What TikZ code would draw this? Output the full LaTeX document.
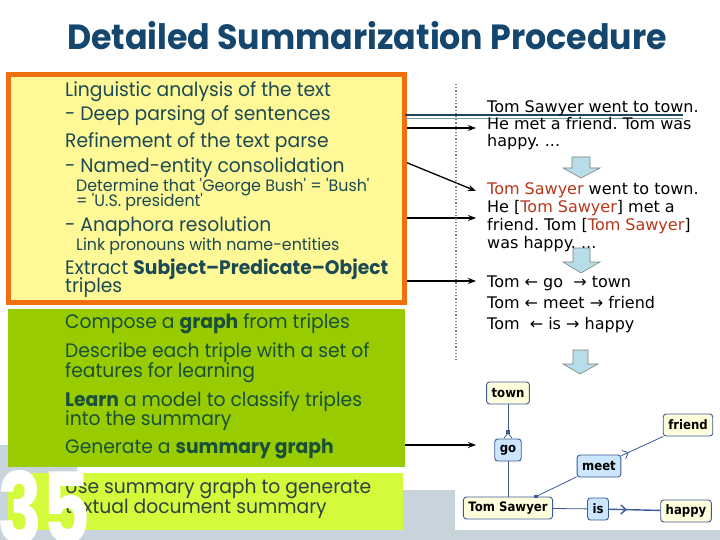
\documentclass[tikz,border=0pt]{standalone}
\usepackage{fontspec}
\usetikzlibrary{arrows.meta,calc,decorations.markings}
\setmainfont{Poppins}[FakeStretch=0.96]
\newfontfamily\titlefont[FakeStretch=0.95]{Poppins}
\newfontfamily\numberfont[FakeStretch=0.76]{Poppins}
\newfontfamily\tahoma{DejaVu Sans}
\newfontfamily\tahomabold[FakeStretch=0.9]{DejaVu Sans}
\definecolor{titleblue}{RGB}{20,70,110}
\definecolor{boxorange}{RGB}{240,112,16}
\definecolor{boxyellow}{RGB}{255,248,150}
\definecolor{boxgreen}{RGB}{153,204,0}
\definecolor{boxlime}{RGB}{212,250,60}
\definecolor{footgrey}{RGB}{200,212,220}
\definecolor{tealtext}{RGB}{28,74,84}
\definecolor{greentext}{RGB}{26,80,58}
\definecolor{limetext}{RGB}{44,66,66}
\definecolor{sawyerred}{RGB}{185,55,25}
\definecolor{downblue}{RGB}{183,221,232}
\definecolor{entityfill}{RGB}{255,255,221}
\definecolor{relfill}{RGB}{204,230,255}
\definecolor{nodeedge}{RGB}{60,90,150}
\tikzset{
  bigline/.style={anchor=base west,inner sep=0pt,font=\fontsize{19.5}{22}\selectfont},
  smallline/.style={anchor=base west,inner sep=0pt,font=\fontsize{16.5}{18}\selectfont},
  sampleline/.style={anchor=base west,inner sep=0pt,font=\tahoma\fontsize{16}{18}\selectfont\frenchspacing},
  steparrow/.style={line width=1.3pt,-{Stealth[length=8pt,width=6pt]}},
  downshape/.style={fill=downblue,draw=gray,line width=0.6pt},
  graphnode/.style={draw=nodeedge,line width=0.9pt,rounded corners=3pt,inner xsep=5pt,
    minimum height=22pt,font=\tahomabold\bfseries\fontsize{13}{13}\selectfont},
  entity/.style={graphnode,fill=entityfill},
  relation/.style={graphnode,fill=relfill},
  graphedge/.style={draw=nodeedge,line width=0.8pt},
  midbarb/.style={postaction={decorate},decoration={markings,
    mark=at position #1 with {\arrow{Straight Barb[length=5pt,width=9pt]}}}}
}
\begin{document}
\begin{tikzpicture}[x=1pt,y=1pt,yscale=-1,xscale=1]
\useasboundingbox (0,0) rectangle (720,540);
%Shape: Rectangle [page]
\fill[white] (0,0) rectangle (720,540);
%Shape: Footer band
\fill[footgrey] (0,445) -- (65,445) arc[start angle=-90,end angle=0,radius=12] -- (77,490) -- (720,490) -- (720,540) -- (0,540) -- cycle;
%Shape: Rectangle [graph picture]
\fill[white] (455,372) rectangle (720,530);

% Text Node
\node[anchor=base,inner sep=0pt,text=titleblue,font=\titlefont\bfseries\fontsize{35}{40}\selectfont] (title) at (367,50) {Detailed Summarization Procedure};

%Straight Lines [arrows out of the boxes]
\coordinate (parseout) at (393,128);
\coordinate (parsein) at (476,128);
\coordinate (entityout) at (393,157);
\coordinate (entityin) at (476,191);
\coordinate (anaphout) at (393,218);
\coordinate (anaphin) at (476,218);
\coordinate (tripleout) at (395,281);
\coordinate (triplein) at (476,281);
\coordinate (graphout) at (405,445);
\coordinate (graphin) at (476,445);
\draw[steparrow] (parseout) -- (parsein);
\draw[steparrow] (entityout) -- (entityin);
\draw[steparrow] (anaphout) -- (anaphin);
\draw[steparrow] (tripleout) -- (triplein);

%Shape: Rectangle [analysis box]
\draw[draw=boxorange,fill=boxyellow,line width=5pt] (8,75) rectangle (404,302);
%Shape: Rectangle [learning box]
\fill[boxgreen] (8,309) rectangle (405,467);
%Shape: Rectangle [output box]
\fill[boxlime] (8,473) rectangle (403,530);
\draw[steparrow] (graphout) -- (graphin);

% Text Node
\node[bigline,text=tealtext] (ling) at (65,97) {Linguistic analysis of the text};
\node[bigline,text=tealtext] (deep) at (65,121) {- Deep parsing of sentences};
\node[bigline,text=tealtext] (refine) at (65,148) {Refinement of the text parse};
\node[bigline,text=tealtext] (named) at (65,173) {- Named-entity consolidation};
\node[smallline,text=tealtext] (bush) at (76,192) {Determine that \textquotesingle George Bush\textquotesingle\ = \textquotesingle Bush\textquotesingle};
\node[smallline,text=tealtext] (president) at (76,207) {= \textquotesingle U.S. president\textquotesingle};
\node[bigline,text=tealtext] (anaph) at (65,231) {- Anaphora resolution};
\node[smallline,text=tealtext] (pronoun) at (76,250) {Link pronouns with name-entities};
\node[bigline,text=tealtext] (extract) at (65,274) {Extract \textbf{Subject–Predicate–Object}};
\node[bigline,text=tealtext] (triples) at (65,292) {triples};
% Text Node
\node[bigline,text=greentext] (compose) at (65,328) {Compose a \textbf{graph} from triples};
\node[bigline,text=greentext] (describe) at (65,357) {Describe each triple with a set of};
\node[bigline,text=greentext] (features) at (65,377) {features for learning};
\node[bigline,text=greentext] (learn) at (65,406) {\textbf{Learn} a model to classify triples};
\node[bigline,text=greentext] (into) at (65,425) {into the summary};
\node[bigline,text=greentext] (generate) at (65,453) {Generate a \textbf{summary graph}};
% Text Node
\node[bigline,text=limetext] (use) at (65,493) {Use summary graph to generate};
\node[bigline,text=limetext] (textual) at (65,513) {textual document summary};
% Text Node [slide number]
\node[anchor=base west,inner sep=0pt,text=white,font=\numberfont\bfseries\fontsize{98}{98}\selectfont] (slideno) at (-3,543) {35};

%Straight Lines [dotted divider]
\draw[gray,dotted,line width=1.2pt] (456,84) -- (456,362);
%Straight Lines [double rule]
\draw[draw={rgb,255:red,30;green,70;blue,90},line width=1.5pt] (405,115) -- (683,115);
\draw[draw={rgb,255:red,120;green,150;blue,170},line width=0.8pt] (405,118.5) -- (683,118.5);

% Text Node
\node[sampleline] (plain1) at (487,113) {Tom Sawyer went to town.};
\node[sampleline] (plain2) at (487,130) {He met a friend. Tom was};
\node[sampleline] (plain3) at (487,147) {happy. ...};
\node[sampleline] (resolved1) at (487,195) {\textcolor{sawyerred}{Tom Sawyer} went to town.};
\node[sampleline] (resolved2) at (487,213) {He [\textcolor{sawyerred}{Tom Sawyer}] met a};
\node[sampleline] (resolved3) at (487,230) {friend. Tom [\textcolor{sawyerred}{Tom Sawyer}]};
\node[sampleline] (resolved4) at (487,248) {was happy. ...};
\node[sampleline] (triple1) at (487,287) {Tom ← go\ \ → town};
\node[sampleline] (triple2) at (487,308) {Tom ← meet → friend};
\node[sampleline] (triple3) at (487,329) {Tom\ \ ← is → happy};

%Shape: Down Arrow
\draw[downshape] (572,157) -- (590,157) -- (590,168) -- (600,168) -- (581,178) -- (563,168) -- (572,168) -- cycle;
%Shape: Down Arrow
\draw[downshape] (573,248) -- (590,248) -- (590,262) -- (600,262) -- (581,273) -- (563,262) -- (573,262) -- cycle;
%Shape: Down Arrow
\draw[downshape] (573,350) -- (588,350) -- (588,364) -- (598,364) -- (580,374) -- (563,364) -- (573,364) -- cycle;

% Graph Nodes
\node[entity] (town) at (508,393) {town};
\node[relation] (go) at (508,450) {go};
\node[relation] (meet) at (599,466) {meet};
\node[entity] (friend) at (688,425) {friend};
\node[entity] (tomsawyer) at (508,508) {Tom Sawyer};
\node[relation] (is) at (598,509) {is};
\node[entity] (happy) at (686,511) {happy};

% Graph Edges
\draw[graphedge,-{Straight Barb[reversed,length=5pt,width=8pt]}] (town) -- (go);
\fill[nodeedge] ($(go.north)+(-1.8,-8.5)$) rectangle ++(3.6,3.6);
\draw[graphedge] (go) -- (tomsawyer);
\coordinate (tommeet) at ($(tomsawyer.north)+(28,0)$);
\fill[nodeedge] ($(tommeet)+(-1.8,-1.8)$) rectangle ++(3.6,3.6);
\draw[graphedge] (tommeet) -- (meet);
\draw[graphedge,midbarb=0.18] (meet) -- (friend);
\draw[graphedge] (tomsawyer) -- (is);
\draw[graphedge,line width=1.4pt,midbarb=0.35] (is) -- (happy);
\end{tikzpicture}
\end{document}
